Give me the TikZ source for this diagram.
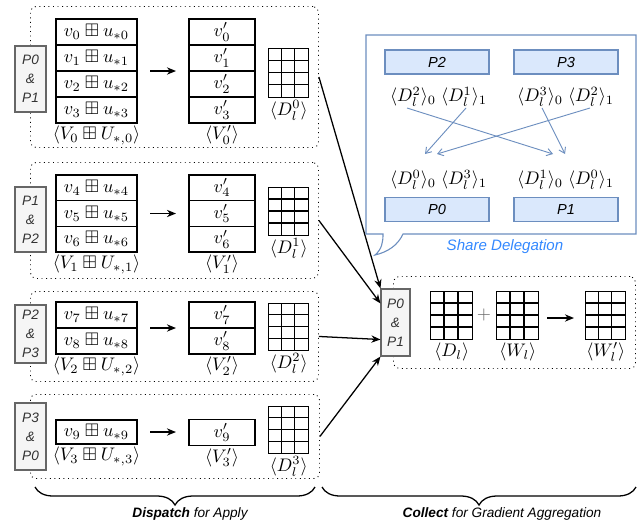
\documentclass[tikz,border=0pt]{standalone}
\usepackage{amssymb}
\usepackage{fontspec}
\setsansfont{Liberation Sans}
\usetikzlibrary{arrows.meta,calc,decorations.pathreplacing}
\definecolor{pfill}{HTML}{F5F5F5}
\definecolor{pdraw}{HTML}{666666}
\definecolor{ptext}{HTML}{333333}
\definecolor{bfill}{HTML}{DAE8FC}
\definecolor{bdraw}{HTML}{6C8EBF}
\definecolor{sdtext}{HTML}{3388FF}
\newcommand\mygrid[5]{%
  \node[gridnode, minimum width=#4*0.55pt, minimum height=#5*0.55pt, anchor=north west] (#1) at (#2,#3) {};
  \foreach \i in {1,2} \draw[gridline] ({#2+#4*\i/3},#3) -- ({#2+#4*\i/3},{#3+#5});
  \foreach \j in {1,2,3} \draw[gridline] (#2,{#3+#5*\j/4}) -- ({#2+#4},{#3+#5*\j/4});
}
\begin{document}
\begin{tikzpicture}[x=0.55pt,y=-0.55pt,
  cell/.style={draw, line width=0.8pt, inner sep=0pt, minimum width=81*0.55pt, minimum height=26*0.55pt},
  vcell/.style={cell, minimum width=66*0.55pt},
  gridnode/.style={draw, line width=0.8pt, inner sep=0pt},
  gridline/.style={line width=0.8pt},
  pbox/.style={draw=pdraw, fill=pfill, line width=0.6pt, text=ptext, font=\sffamily\itshape\fontsize{7.5}{10.5}\selectfont, align=center, inner sep=0pt, minimum width=31*0.55pt},
  groupbox/.style={draw, dotted, line width=0.5pt, rounded corners=3pt, inner sep=0pt, anchor=north west},
  lab/.style={inner sep=1pt, anchor=north},
  arr/.style={-{Stealth[length=5pt,width=4pt]}, line width=0.7pt},
  bbox/.style={draw=bdraw, fill=bfill, line width=0.6pt, font=\sffamily\itshape\fontsize{8}{10}\selectfont, minimum width=104*0.55pt, minimum height=24*0.55pt, inner sep=0pt},
  barr/.style={draw=bdraw, line width=0.5pt, -{Straight Barb[length=3pt,width=4pt]}},
  brc/.style={decorate, decoration={brace, mirror, amplitude=9.9pt}, line width=0.7pt},
  btext/.style={font=\sffamily\itshape\fontsize{7.5}{9}\selectfont, inner sep=0pt}
]
\useasboundingbox (0,0) rectangle (637,527);

% ---------- group boxes ----------
\node[groupbox, minimum width=288*0.55pt, minimum height=141*0.55pt] (G1) at (30,6) {};
\node[groupbox, minimum width=288*0.55pt, minimum height=116*0.55pt] (G2) at (30,162) {};
\node[groupbox, minimum width=288*0.55pt, minimum height=90*0.55pt] (G3) at (30,291) {};
\node[groupbox, minimum width=289*0.55pt, minimum height=84*0.55pt] (G4) at (30,394) {};
\node[groupbox, minimum width=242*0.55pt, minimum height=92*0.55pt] (GC) at (393,276) {};

% ---------- P boxes ----------
\node[pbox, minimum height=66*0.55pt] (P1) at (30.5,79) {P0\\\&\\P1};
\node[pbox, minimum height=65*0.55pt] (P2) at (30.5,219.5) {P1\\\&\\P2};
\node[pbox, minimum height=58*0.55pt] (P3) at (30.5,334) {P2\\\&\\P3};
\node[pbox, minimum height=67*0.55pt] (P4) at (30.5,436.5) {P3\\\&\\P0};
\node[pbox, minimum width=29*0.55pt, minimum height=67*0.55pt] (PC) at (395.5,322.5) {P0\\\&\\P1};

% ---------- group 1 ----------
\node[cell] (s1a) at (96.5,32) {$v_0\boxplus u_{*0}$};
\node[cell] (s1b) at (96.5,58) {$v_1\boxplus u_{*1}$};
\node[cell] (s1c) at (96.5,84) {$v_2\boxplus u_{*2}$};
\node[cell] (s1d) at (96.5,110) {$v_3\boxplus u_{*3}$};
\node[lab] (l1s) at (s1d.south) {$\langle V_0\boxplus U_{*,0}\rangle$};
\node[vcell] (w1a) at (222,32) {$v'_0$};
\node[vcell] (w1b) at (222,58) {$v'_1$};
\node[vcell] (w1c) at (222,84) {$v'_2$};
\node[vcell] (w1d) at (222,110) {$v'_3$};
\node[lab] (l1w) at (w1d.south) {$\langle V'_0\rangle$};
\coordinate (a1s) at (150,71); \coordinate (a1e) at (176,71);
\draw[arr] (a1s) -- (a1e);
\mygrid{d1}{268}{48}{40}{49}
\node[lab] (l1d) at (d1.south) {$\langle D_l^0\rangle$};

% ---------- group 2 ----------
\node[cell, minimum height=25.67*0.55pt] (s2a) at (96.5,187.8) {$v_4\boxplus u_{*4}$};
\node[cell, minimum height=25.67*0.55pt] (s2b) at (96.5,213.5) {$v_5\boxplus u_{*5}$};
\node[cell, minimum height=25.67*0.55pt] (s2c) at (96.5,239.2) {$v_6\boxplus u_{*6}$};
\node[lab] (l2s) at (s2c.south) {$\langle V_1\boxplus U_{*,1}\rangle$};
\node[vcell, minimum height=25.67*0.55pt] (w2a) at (222,187.8) {$v'_4$};
\node[vcell, minimum height=25.67*0.55pt] (w2b) at (222,213.5) {$v'_5$};
\node[vcell, minimum height=25.67*0.55pt] (w2c) at (222,239.2) {$v'_6$};
\node[lab] (l2w) at (w2c.south) {$\langle V'_1\rangle$};
\coordinate (a2s) at (150,213.5); \coordinate (a2e) at (176,213.5);
\draw[arr] (a2s) -- (a2e);
\mygrid{d2}{268}{187}{40}{48}
\node[lab] (l2d) at (d2.south) {$\langle D_l^1\rangle$};

% ---------- group 3 ----------
\node[cell] (s3a) at (96.5,315) {$v_7\boxplus u_{*7}$};
\node[cell] (s3b) at (96.5,341) {$v_8\boxplus u_{*8}$};
\node[lab] (l3s) at (s3b.south) {$\langle V_2\boxplus U_{*,2}\rangle$};
\node[vcell] (w3a) at (222,315) {$v'_7$};
\node[vcell] (w3b) at (222,341) {$v'_8$};
\node[lab] (l3w) at (w3b.south) {$\langle V'_2\rangle$};
\coordinate (a3s) at (150,328); \coordinate (a3e) at (176,328);
\draw[arr] (a3s) -- (a3e);
\mygrid{d3}{268}{303}{40}{47}
\node[lab] (l3d) at (d3.south) {$\langle D_l^2\rangle$};

% ---------- group 4 ----------
\node[cell, minimum height=24*0.55pt] (s4a) at (96.5,432) {$v_9\boxplus u_{*9}$};
\node[lab] (l4s) at (s4a.south) {$\langle V_3\boxplus U_{*,3}\rangle$};
\node[vcell, minimum height=26*0.55pt] (w4a) at (222,432.5) {$v'_9$};
\node[lab] (l4w) at (w4a.south) {$\langle V'_3\rangle$};
\coordinate (a4s) at (150,432); \coordinate (a4e) at (176,432);
\draw[arr] (a4s) -- (a4e);
\mygrid{d4}{268}{406}{40}{47}
\node[lab] (l4d) at (d4.south) {$\langle D_l^3\rangle$};

% ---------- collect ----------
\mygrid{cd}{430}{291}{42}{48}
\mygrid{cw}{496}{291}{42}{48}
\mygrid{cn}{585}{291}{40}{48}
\node[lab] (lcd) at (cd.south) {$\langle D_l\rangle$};
\node[lab] (lcw) at (cw.south) {$\langle W_l\rangle$};
\node[lab] (lcn) at (cn.south) {$\langle W'_l\rangle$};
\node[text=pdraw, inner sep=0pt] (plus) at (484,315) {$+$};
\coordinate (ca1) at (547,318); \coordinate (ca2) at (574,318);
\draw[arr] (ca1) -- (ca2);

% ---------- arrows into P0&P1 ----------
\draw[arr] (G1.east) -- (PC.north west);
\draw[arr] (G2.east) -- ($(PC.north west)!0.22!(PC.south west)$);
\draw[arr] (G3.east) -- ($(PC.north west)!0.75!(PC.south west)$);
\draw[arr] (G4.east) -- (PC.south west);

% ---------- share delegation callout ----------
\coordinate (tailtip) at (375,255);
\draw[draw=bdraw, fill=white, line width=0.6pt]
  (366,35) -- (636,35) -- (636,234) -- (403,234)
  .. controls (398,245) and (388,252) .. (tailtip)
  .. controls (382,249) and (383,242) .. (383,234) -- (366,234) -- cycle;
\node[bbox] (bP2) at (437,62) {P2};
\node[bbox] (bP3) at (566,62) {P3};
\node[bbox] (bP0) at (437,209.5) {P0};
\node[bbox] (bP1) at (566,209.5) {P1};
\node (t1) at (413,97) {$\langle D_l^2\rangle_0$};
\node (t2) at (464,97) {$\langle D_l^1\rangle_1$};
\node (t3) at (540,97) {$\langle D_l^3\rangle_0$};
\node (t4) at (591,97) {$\langle D_l^2\rangle_1$};
\node (b1) at (413,180) {$\langle D_l^0\rangle_0$};
\node (b2) at (464,180) {$\langle D_l^3\rangle_1$};
\node (b3) at (540,180) {$\langle D_l^1\rangle_0$};
\node (b4) at (591,180) {$\langle D_l^0\rangle_1$};
\coordinate (e1s) at (407,108); \coordinate (e1e) at (553,154);
\coordinate (e2s) at (466,108); \coordinate (e2e) at (425,154);
\coordinate (e3s) at (542,108); \coordinate (e3e) at (565,154);
\coordinate (e4s) at (590,108); \coordinate (e4e) at (437,154);
\draw[barr] (e1s) -- (e1e);
\draw[barr] (e2s) -- (e2e);
\draw[barr] (e3s) -- (e3e);
\draw[barr] (e4s) -- (e4e);
\node[text=sdtext, font=\sffamily\itshape\fontsize{8.3}{10}\selectfont, inner sep=0pt] (sd) at (505,247) {Share Delegation};

% ---------- braces ----------
\coordinate (br1a) at (35,487); \coordinate (br1b) at (315,487);
\coordinate (br2a) at (322,487); \coordinate (br2b) at (636,487);
\draw[brc] (br1a) -- (br1b);
\draw[brc] (br2a) -- (br2b);
\node[btext] (bt1) at (190,514) {\textbf{Dispatch} for Apply};
\node[btext] (bt2) at (502,514) {\textbf{Collect} for Gradient Aggregation};
\end{tikzpicture}
\end{document}
